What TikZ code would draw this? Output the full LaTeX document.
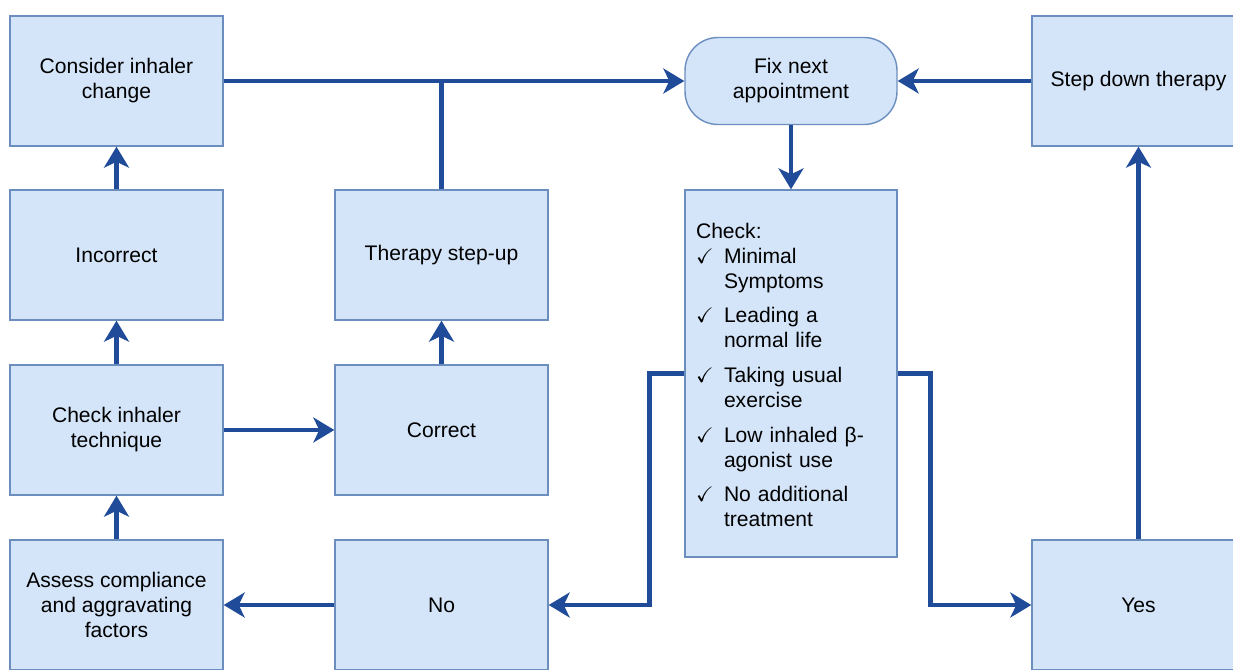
\documentclass[tikz,border=0pt]{standalone}
\usepackage{amssymb}
\usepackage{fontspec}
\setmainfont{Liberation Sans}
\usetikzlibrary{arrows.meta}
\definecolor{boxfill}{RGB}{212,229,249}
\definecolor{boxline}{RGB}{108,142,191}
\definecolor{flowblue}{RGB}{31,75,153}

\begin{document}
\begin{tikzpicture}[x=0.02cm, y=-0.02cm,
  box/.style={draw=boxline, line width=0.8pt, fill=boxfill, align=center,
    minimum width=4.26cm, minimum height=2.6cm, inner sep=0pt,
    font=\fontsize{12}{14.2}\selectfont},
  pill/.style={box, rounded corners=0.66cm, minimum width=4.24cm, minimum height=1.74cm},
  line/.style={draw=flowblue, line width=2.8pt},
  flow/.style={line, -{Stealth[length=0.42cm, width=0.5cm, inset=0.12cm]}}]
\useasboundingbox (0,0) rectangle (1233,669);
\clip (0,0) rectangle (1233,669);

% left column
\node[box] (consider) at (116.5,81) {Consider inhaler\\change};
\node[box] (incorrect) at (116.5,255) {Incorrect};
\node[box] (technique) at (116.5,430) {Check inhaler\\technique};
\node[box] (assess) at (116.5,605) {Assess compliance\\and aggravating\\factors};

% second column
\node[box] (stepup) at (441.5,255) {Therapy step-up};
\node[box] (correct) at (441.5,430) {Correct};
\node[box] (no) at (441.5,605) {No};

% middle
\node[pill] (fix) at (791,81) {Fix next\\appointment};
\node[box, minimum width=4.24cm, minimum height=7.34cm, align=left,
  text width=3.8cm] (check) at (791,373.5) {%
  \begin{tabular}{@{}p{0.56cm}@{}l@{}}
  \multicolumn{2}{@{}l@{}}{\rule{0pt}{14.5pt}Check:}\\
  $\checkmark$ & Minimal\\
   & Symptoms\\[5pt]
  $\checkmark$ & Leading a\\
   & normal life\\[6pt]
  $\checkmark$ & Taking usual\\
   & exercise\\[6pt]
  $\checkmark$ & Low inhaled β-\\
   & agonist use\\[5pt]
  $\checkmark$ & No additional\\
   & treatment
  \end{tabular}};

% right column
\node[box] (stepdown) at (1138.5,81) {Step down therapy};
\node[box] (yes) at (1138.5,605) {Yes};

% connectors
\draw[flow] (consider.east) -- (fix.west);
\draw[line] (stepup.north) -- (stepup.north |- consider.east);
\draw[flow] (stepdown.west) -- (fix.east);
\draw[flow] (fix.south) -- (check.north);
\draw[flow] (assess.north) -- (technique.south);
\draw[flow] (technique.north) -- (incorrect.south);
\draw[flow] (incorrect.north) -- (consider.south);
\draw[flow] (technique.east) -- (correct.west);
\draw[flow] (correct.north) -- (stepup.south);
\draw[flow] (no.west) -- (assess.east);
\draw[flow] (check.west) -- ++(-35,0) |- (no.east);
\draw[flow] (check.east) -- ++(33,0) |- (yes.west);
\draw[flow] (yes.north) -- (stepdown.south);
\end{tikzpicture}
\end{document}
